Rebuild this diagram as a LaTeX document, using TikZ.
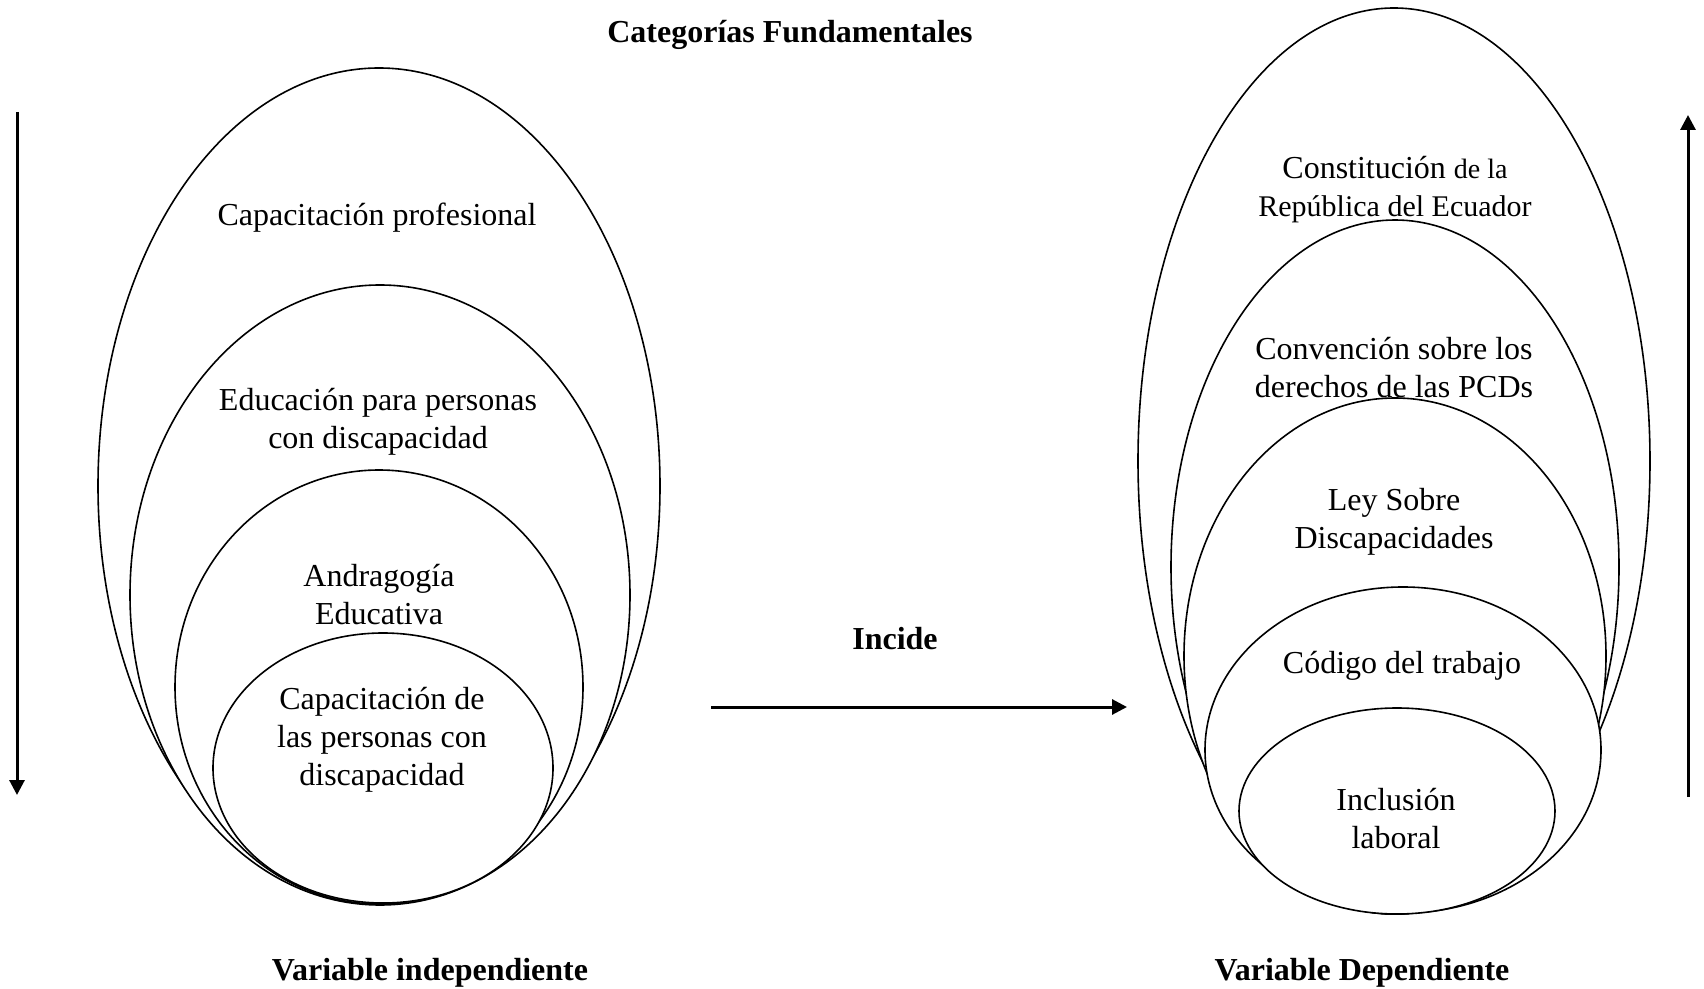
\documentclass[tikz,border=0pt]{standalone}
\usepackage{fontspec}
\setmainfont{Liberation Serif}
\usetikzlibrary{shapes.geometric,arrows.meta}
\tikzset{
  ell/.style={draw, ellipse, fill=white, line width=0.8pt, inner sep=0pt, outer sep=0pt},
  lbl/.style={align=center, inner sep=0pt, font=\fontsize{16}{19}\selectfont},
  ttl/.style={inner sep=0pt, font=\fontsize{16}{19}\selectfont\bfseries},
  arr/.style={line width=1.5pt, -{Triangle[length=7.5pt,width=7.5pt]}}
}
\begin{document}
\begin{tikzpicture}[x=0.5pt,y=-0.5pt]
\useasboundingbox (0,0) rectangle (1704,989);
% left ellipses
\node[ell, minimum width=281pt, minimum height=418pt] (le1) at (379,486) {};
\node[ell, minimum width=250pt, minimum height=310pt] (le2) at (380,595) {};
\node[ell, minimum width=204pt, minimum height=217pt] (le3) at (379,687) {};
\node[ell, minimum width=170pt, minimum height=135pt] (le4) at (383,768) {};
% right ellipses
\node[ell, minimum width=256pt, minimum height=453pt] (re1) at (1394,461) {};
\node[ell, minimum width=224pt, minimum height=347pt] (re2) at (1395,567) {};
\node[ell, minimum width=211pt, minimum height=258pt] (re3) at (1395,656) {};
\node[ell, minimum width=198pt, minimum height=163pt] (re4) at (1403,750) {};
\node[ell, minimum width=158pt, minimum height=103pt] (re5) at (1397,811) {};
% labels
\node[ttl] (title) at (790,35) {Categorías Fundamentales};
\node[lbl] (l1) at (377,218) {Capacitación profesional};
\node[lbl] (l2) at (378,422) {Educación para personas\\con discapacidad};
\node[lbl] (l3) at (379,595) {Andragogía\\Educativa};
\node[lbl] (l4) at (382,740) {Capacitación de\\las personas con\\discapacidad};
\node[lbl] (r1) at (1395,190) {Constitución {\fontsize{14}{19}\selectfont de la}\\{\fontsize{15}{19}\selectfont República del Ecuador}};
\node[lbl] (r2) at (1394,368) {Convención sobre los\\derechos de las PCDs};
\node[lbl] (r3) at (1394,522) {Ley Sobre\\Discapacidades};
\node[lbl] (r4) at (1402,666) {Código del trabajo};
\node[lbl] (r5) at (1396,819) {Inclusión\\laboral};
\node[ttl] (incide) at (895,639) {Incide};
\node[ttl] (vi) at (430,973) {Variable independiente};
\node[ttl] (vd) at (1362,973) {Variable Dependiente};
% arrows
\coordinate (la1) at (17,112);
\coordinate (la2) at (17,795);
\coordinate (ra1) at (1688,797);
\coordinate (ra2) at (1688,115);
\coordinate (ha1) at (711,707);
\coordinate (ha2) at (1127,707);
\draw[arr] (la1) -- (la2);
\draw[arr] (ra1) -- (ra2);
\draw[arr] (ha1) -- (ha2);
\end{tikzpicture}
\end{document}
